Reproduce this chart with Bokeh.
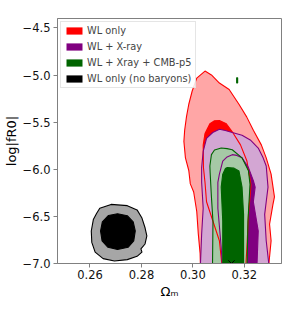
from bokeh.plotting import figure
from bokeh.models import Legend, LegendItem, FixedTicker, Range1d
from bokeh.embed import file_html
from bokeh.resources import INLINE

# ---------------- data (contour outlines) ----------------
# WL only: 95% (outer) and 68% (inner)
wl_95_x = [0.3030, 0.3028, 0.3021, 0.3015, 0.3003, 0.2990, 0.2984, 0.2971, 0.2965, 0.2968,
           0.2975, 0.2984, 0.2997, 0.3015, 0.3047, 0.3072, 0.3103, 0.3141, 0.3179, 0.3209,
           0.3235, 0.3266, 0.3285, 0.3304, 0.3317, 0.3311, 0.3298, 0.3304, 0.3292]
wl_95_y = [-7.1, -6.893, -6.686, -6.448, -6.241, -6.155, -6.013, -5.879, -5.706, -5.586,
           -5.444, -5.310, -5.172, -5.033, -4.958, -4.999, -5.085, -5.154, -5.310, -5.444,
           -5.586, -5.741, -5.879, -6.052, -6.293, -6.376, -6.583, -6.759, -7.1]
wl_68_x = [0.3116, 0.3103, 0.3078, 0.3053, 0.3047, 0.3041, 0.3040, 0.3047, 0.3066, 0.3084,
           0.3103, 0.3130, 0.3153, 0.3185, 0.3210, 0.3226, 0.3216, 0.3210, 0.3204]
wl_68_y = [-7.1, -6.759, -6.552, -6.345, -6.138, -5.982, -5.744, -5.620, -5.517, -5.486,
           -5.482, -5.517, -5.602, -5.741, -5.913, -6.169, -6.479, -6.828, -7.1]

# WL + X-ray
wlx_95_x = [0.3028, 0.3034, 0.3040, 0.3034, 0.3034, 0.3040, 0.3053, 0.3077, 0.3103, 0.3126,
            0.3153, 0.3191, 0.3223, 0.3254, 0.3273, 0.3285, 0.3292, 0.3285, 0.3279, 0.3285, 0.3299]
wlx_95_y = [-7.1, -6.686, -6.414, -6.138, -5.982, -5.810, -5.672, -5.610, -5.576, -5.589,
            -5.610, -5.638, -5.689, -5.775, -5.879, -5.965, -6.189, -6.345, -6.479, -6.759, -7.1]
wlx_68_x = [0.3116, 0.3110, 0.3097, 0.3097, 0.3103, 0.3116, 0.3133, 0.3153, 0.3171, 0.3191,
            0.3216, 0.3235, 0.3242, 0.3235, 0.3254, 0.3248]
wlx_68_y = [-7.1, -6.828, -6.414, -6.138, -6.052, -5.913, -5.869, -5.845, -5.853, -5.879,
            -5.982, -6.120, -6.189, -6.345, -6.655, -7.1]

# WL + Xray + CMB-p5
wlxc_95_x = [0.3076, 0.3078, 0.3072, 0.3067, 0.3066, 0.3072, 0.3084, 0.3110, 0.3133, 0.3153,
             0.3191, 0.3216, 0.3222, 0.3214, 0.3210]
wlxc_95_y = [-7.1, -6.552, -6.293, -6.034, -5.965, -5.845, -5.796, -5.775, -5.781, -5.793,
             -5.879, -6.017, -6.158, -6.552, -7.1]
wlxc_95_island_x = [0.3170, 0.3174, 0.3174, 0.3170]
wlxc_95_island_y = [-5.030, -5.030, -5.085, -5.085]
wlxc_68_x = [0.3116, 0.3116, 0.3110, 0.3116, 0.3126, 0.3134, 0.3160, 0.3179, 0.3191, 0.3197, 0.3197]
wlxc_68_y = [-7.1, -6.552, -6.189, -6.052, -5.993, -5.982, -5.988, -6.017, -6.189, -6.479, -7.1]

# WL only (no baryons)
nob_95_x = [0.2638, 0.2682, 0.2745, 0.2783, 0.2802, 0.2814, 0.2821, 0.2814, 0.2798, 0.2802,
            0.2783, 0.2745, 0.2695, 0.2651, 0.2620, 0.2607, 0.2605, 0.2613, 0.2626]
nob_95_y = [-6.414, -6.373, -6.386, -6.431, -6.518, -6.621, -6.707, -6.793, -6.845, -6.880,
            -6.924, -6.959, -6.973, -6.948, -6.880, -6.776, -6.655, -6.534, -6.466]
nob_68_x = [0.2707, 0.2745, 0.2768, 0.2776, 0.2770, 0.2748, 0.2707, 0.2670, 0.2647, 0.2641,
            0.2648, 0.2672]
nob_68_y = [-6.472, -6.493, -6.559, -6.655, -6.759, -6.828, -6.852, -6.828, -6.759, -6.655,
            -6.559, -6.490]

# fiducial marker
fid_x = [0.3150]
fid_y = [-7.0]

legend_labels = ["WL only", "WL + X-ray", "WL + Xray + CMB-p5", "WL only (no baryons)"]
xticks = [0.26, 0.28, 0.30, 0.32]
xtick_labels = ["0.26", "0.28", "0.30", "0.32"]
yticks = [-4.5, -5.0, -5.5, -6.0, -6.5, -7.0]
ytick_labels = ["\u22124.5", "\u22125.0", "\u22125.5", "\u22126.0", "\u22126.5", "\u22127.0"]
x_label = "\u03a9\u2098"
y_label = "log|fR0|"

# ---------------- figure ----------------
FONT = "DejaVu Sans"
AX = "#808080"

p = figure(width=282, height=301, output_backend="svg", toolbar_location=None, title=None,
           x_range=Range1d(0.24737, 0.33444), y_range=Range1d(-7.0, -4.40),
           min_border_left=44, min_border_right=1, min_border_top=18, min_border_bottom=35)
p.grid.visible = False
p.outline_line_color = AX
p.outline_line_width = 1
p.background_fill_color = "white"
p.border_fill_color = "white"

p.xaxis.ticker = FixedTicker(ticks=xticks)
p.xaxis.major_label_overrides = {v: s for v, s in zip(xticks, xtick_labels)}
p.yaxis.ticker = FixedTicker(ticks=yticks)
p.yaxis.major_label_overrides = {v: s for v, s in zip(yticks, ytick_labels)}
for ax in (p.xaxis, p.yaxis):
    ax.axis_line_color = AX
    ax.major_tick_line_color = AX
    ax.minor_tick_line_color = None
    ax.major_tick_out = 4
    ax.major_tick_in = 0
    ax.major_label_text_font = FONT
    ax.major_label_text_font_size = "11.5px"
    ax.major_label_text_color = "#111111"
    ax.axis_label_text_font = FONT
    ax.axis_label_text_font_size = "13px"
    ax.axis_label_text_font_style = "normal"
    ax.axis_label_text_color = "black"
p.yaxis.major_label_standoff = 3
p.xaxis.major_label_standoff = 2
p.xaxis.axis_label = x_label
p.xaxis.axis_label_standoff = 2
p.yaxis.axis_label = y_label
p.yaxis.axis_label_standoff = 1

# colours
RED, RED_L = "#ff0000", "#ffa6a6"
PUR, PUR_L = "#800080", "#d3a6d3"
GRN, GRN_L = "#006400", "#a6c9a6"
BLK, BLK_L = "#000000", "#a6a6a6"

# fills
p.patch(wl_95_x, wl_95_y, fill_color=RED_L, line_color=None)
r_red = p.patch(wl_68_x, wl_68_y, fill_color=RED, line_color=None)
p.patch(wlx_95_x, wlx_95_y, fill_color=PUR_L, line_color=None)
r_pur = p.patch(wlx_68_x, wlx_68_y, fill_color=PUR, line_color=None)
p.patch(wlxc_95_x, wlxc_95_y, fill_color=GRN_L, line_color=None)
p.patch(wlxc_95_island_x, wlxc_95_island_y, fill_color=GRN_L, line_color=None)
r_grn = p.patch(wlxc_68_x, wlxc_68_y, fill_color=GRN, line_color=None)
p.patch(nob_95_x, nob_95_y, fill_color=BLK_L, line_color=None)
r_blk = p.patch(nob_68_x, nob_68_y, fill_color=BLK, line_color=None)

# outlines
LW = 1.1
for xs, ys, c in [(wl_95_x, wl_95_y, RED), (wl_68_x, wl_68_y, RED),
                  (wlx_95_x, wlx_95_y, PUR), (wlx_68_x, wlx_68_y, PUR),
                  (wlxc_95_x, wlxc_95_y, GRN), (wlxc_95_island_x, wlxc_95_island_y, GRN),
                  (wlxc_68_x, wlxc_68_y, GRN),
                  (nob_95_x, nob_95_y, BLK), (nob_68_x, nob_68_y, BLK)]:
    p.patch(xs, ys, fill_color=None, line_color=c, line_width=LW)

p.scatter(fid_x, fid_y, marker="x", size=9, line_color="black", line_width=1)

# legend
legend = Legend(items=[LegendItem(label=lab, renderers=[r]) for lab, r in
                       zip(legend_labels, [r_red, r_pur, r_grn, r_blk])],
                location="top_left", margin=3, padding=3, spacing=5,
                glyph_width=20, glyph_height=9, label_height=9, label_standoff=3,
                label_text_font=FONT, label_text_font_size="9.8px",
                label_text_baseline="middle",
                border_line_color="#cccccc", border_line_width=1,
                background_fill_color="white", background_fill_alpha=0.85)
p.add_layout(legend)

open("out.html", "w").write(file_html(p, INLINE))
